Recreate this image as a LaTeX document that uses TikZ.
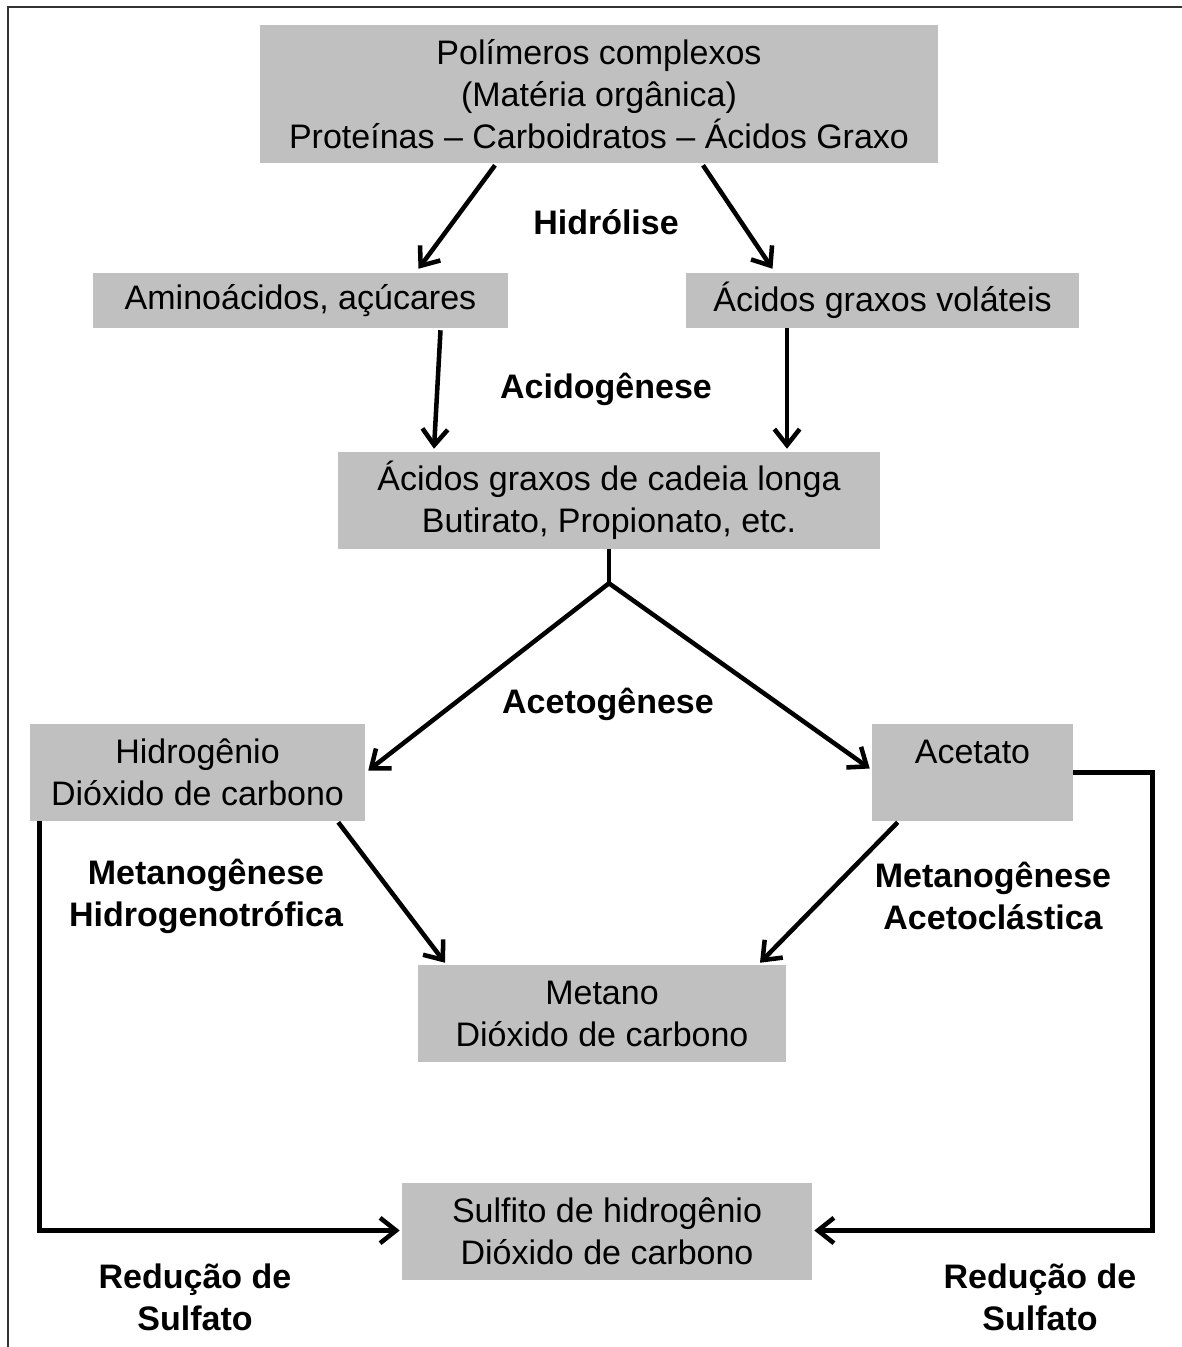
\documentclass[tikz,border=0pt]{standalone}
\usepackage{fontspec}
\setmainfont{Liberation Sans}
\usetikzlibrary{arrows.meta,calc}
\definecolor{boxgray}{RGB}{192,192,192}
\begin{document}
\begin{tikzpicture}[x=0.75pt, y=-0.75pt,
  every node/.style = {align=center, inner sep=0pt,
    font=\fontsize{25.5}{31.5}\selectfont},
  box/.style = {fill=boxgray},
  phase/.style = {font=\fontsize{25.5}{31.5}\selectfont\bfseries},
  arr/.style = {line width=3.4pt,
    -{Straight Barb[length=12pt, width=19pt]}}
]
  \useasboundingbox (0,0) rectangle (1182,1347);
  \draw[line width=1.5pt, black!80] (8,1347) |- (1182,7);

  \node[box, minimum width=508.5pt, minimum height=103.5pt] (poly) at (599,94)
    {Polímeros complexos\\(Matéria orgânica)\\Proteínas – Carboidratos – Ácidos Graxo};
  \node[box, minimum width=311.25pt, minimum height=41.25pt] (amino) at (300.5,300.5)
    {Aminoácidos, açúcares};
  \node[box, minimum width=294.75pt, minimum height=41.25pt] (volat) at (882.5,300.5)
    {Ácidos graxos voláteis};
  \node[box, minimum width=406.5pt, minimum height=72.75pt] (longa) at (609,500.5)
    {Ácidos graxos de cadeia longa\\Butirato, Propionato, etc.};
  \node[box, minimum width=251.25pt, minimum height=72.75pt] (hidro) at (197.5,772.5)
    {Hidrogênio\\Dióxido de carbono};
  \node[box, minimum width=150.75pt, minimum height=72.75pt] (acet) at (972.5,772.5)
    {Acetato\\[-6pt]\phantom{p}};
  \node[box, minimum width=276pt, minimum height=72.75pt] (metano) at (602,1013.5)
    {Metano\\Dióxido de carbono};
  \node[box, minimum width=307.5pt, minimum height=72.75pt] (sulf) at (607,1231.5)
    {Sulfito de hidrogênio\\Dióxido de carbono};

  \node[phase] (hidrolise) at (606,222) {Hidrólise};
  \node[phase] (acido) at (606,389) {Acidogênese};
  \node[phase] (aceto) at (608,704) {Acetogênese};
  \node[phase] (metH) at (206,896) {Metanogênese\\Hidrogenotrófica};
  \node[phase] (metA) at (993,896) {Metanogênese\\Acetoclástica};
  \node[phase] (redL) at (195,1297) {Redução de\\Sulfato};
  \node[phase] (redR) at (1040,1297) {Redução de\\Sulfato};

  \draw[arr] ($(poly.south)+(-104,2)$) -- ($(amino.north)+(118,-4)$);
  \draw[arr] ($(poly.south)+(104,2)$) -- ($(volat.north)+(-110,-4)$);
  \draw[arr] ($(amino.south)+(140,2)$) -- ($(longa.north)+(-175,-3)$);
  \draw[arr] ($(volat.south)+(-95.5,0)$) -- ($(longa.north)+(178,-3)$);
  \coordinate (split) at ($(longa.south)+(0,34)$);
  \draw[line width=3.4pt] (longa.south) -- (split);
  \draw[arr] (split) -- ($(hidro.east)+(3,-2)$);
  \draw[arr] (split) -- ($(acet.west)+(-2,-4)$);
  \draw[arr] ($(hidro.south east)+(-27,1)$) -- ($(metano.north)+(-157,-2)$);
  \draw[arr] ($(acet.south west)+(26,1)$) -- ($(metano.north)+(158,-2)$);
  \draw[arr] ($(hidro.south west)+(10,0)$) |- ($(sulf.west)+(-2,-1)$);
  \draw[arr] (acet.east) -- ++(79,0) |- ($(sulf.east)+(2,-1)$);

\end{tikzpicture}
\end{document}
